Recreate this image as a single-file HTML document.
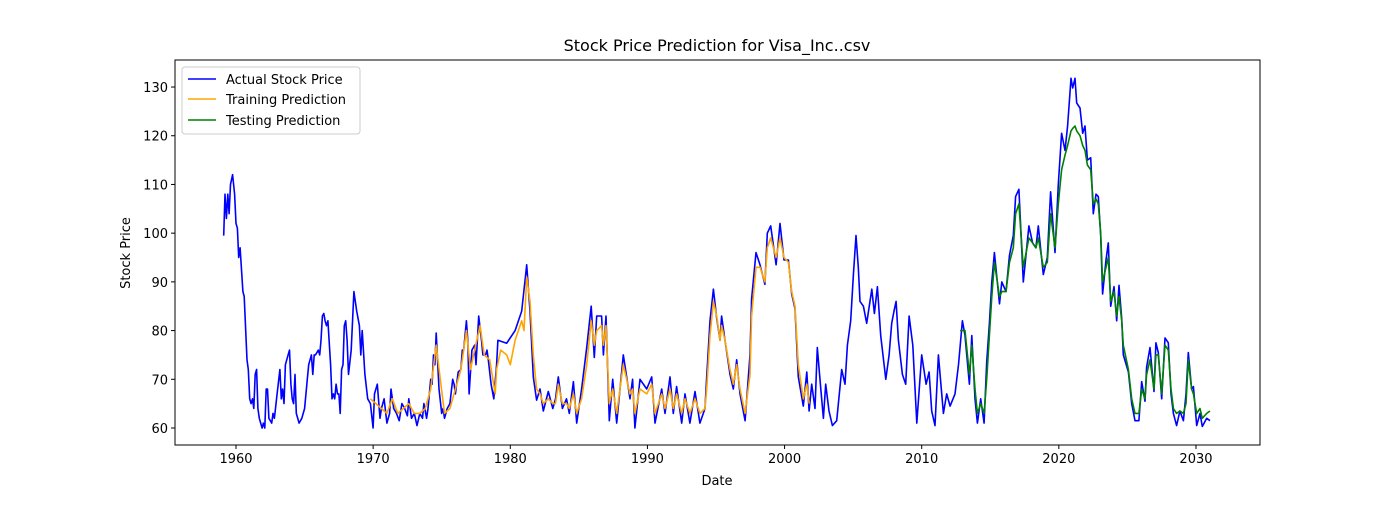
<!DOCTYPE html>
<html><head><meta charset="utf-8"><style>
body{margin:0;background:#fff;font-family:"Liberation Sans","DejaVu Sans",sans-serif}
svg text{font-family:"DejaVu Sans","Liberation Sans",sans-serif}
</style></head><body>
<svg id="c" width="1400" height="500"></svg>
<script>
const actualYears=[1959.1,1959.2,1959.3,1959.4,1959.5,1959.6,1959.75,1959.9,1960.0,1960.1,1960.2,1960.3,1960.5,1960.6,1960.8,1960.9,1961.0,1961.1,1961.2,1961.3,1961.4,1961.5,1961.6,1961.7,1961.9,1962.0,1962.1,1962.2,1962.3,1962.4,1962.6,1962.7,1962.8,1963.0,1963.2,1963.3,1963.4,1963.5,1963.6,1963.8,1963.9,1964.0,1964.1,1964.2,1964.3,1964.4,1964.6,1964.8,1965.0,1965.2,1965.3,1965.5,1965.6,1965.7,1965.8,1966.0,1966.1,1966.2,1966.3,1966.4,1966.5,1966.6,1966.7,1966.9,1967.0,1967.1,1967.2,1967.3,1967.4,1967.5,1967.6,1967.7,1967.8,1967.9,1968.0,1968.1,1968.2,1968.4,1968.6,1968.8,1969.0,1969.1,1969.2,1969.4,1969.6,1969.8,1970.0,1970.1,1970.3,1970.5,1970.6,1970.8,1971.0,1971.2,1971.3,1971.5,1971.7,1971.9,1972.1,1972.3,1972.5,1972.6,1972.8,1973.0,1973.2,1973.4,1973.6,1973.7,1973.9,1974.0,1974.2,1974.3,1974.4,1974.5,1974.6,1974.8,1975.0,1975.1,1975.2,1975.4,1975.6,1975.8,1975.9,1976.0,1976.2,1976.4,1976.5,1976.6,1976.8,1976.9,1977.0,1977.2,1977.3,1977.4,1977.5,1977.7,1977.9,1978.0,1978.2,1978.3,1978.4,1978.6,1978.8,1979.0,1979.1,
1979.74,1980.35,1980.83,1981.2,1981.44,1981.68,1981.92,1982.17,1982.41,1982.77,
1983.1,1983.3,1983.5,1983.8,1984.1,1984.3,1984.6,1984.84,1985.2,1985.57,
1985.9,1986.13,1986.3,1986.66,1986.79,1986.98,1987.22,1987.47,1987.76,1988.24,
1988.73,1988.92,1989.09,1989.46,1989.95,1990.31,1990.55,1991.04,1991.28,1991.65,
1991.89,1992.13,1992.5,1992.74,1993.1,1993.47,1993.83,1994.2,1994.32,1994.56,
1994.81,1995.05,1995.29,1995.41,1995.66,1996.02,1996.26,1996.51,1996.75,1997.12,
1997.48,1997.6,1997.92,1998.21,1998.57,1998.74,1998.99,1999.38,1999.67,1999.96,
2000.28,2000.52,2000.76,2001.0,
2001.37,2001.62,2001.79,2001.98,2002.22,2002.39,2002.64,2002.83,2003.0,2003.24,
2003.49,2003.8,2004.17,2004.41,2004.58,2004.82,2005.02,2005.21,2005.38,2005.5,
2005.75,2005.99,2006.36,2006.55,2006.77,2007.01,2007.38,2007.62,2007.81,2007.98,
2008.13,2008.3,2008.59,2008.83,2009.08,2009.35,2009.64,2010.0,2010.32,2010.54,
2010.73,2010.97,2011.22,2011.58,2011.82,2012.07,2012.43,2012.68,2012.97,2013.16,
2013.48,2013.65,2013.89,2014.06,2014.3,2014.55,2014.74,2014.94,2015.11,2015.3,
2015.67,2015.84,2016.15,2016.4,
2016.68,2016.85,2017.09,2017.41,2017.82,2018.09,2018.33,2018.5,2018.87,2019.16,
2019.4,2019.72,2019.96,2020.2,2020.45,2020.64,2020.89,2021.01,2021.18,2021.3,
2021.54,2021.74,2021.91,2022.08,2022.32,2022.51,2022.71,2022.88,2023.05,2023.19,
2023.44,2023.61,2023.78,2024.02,2024.22,2024.39,2024.58,2024.7,2025.07,2025.31,
2025.55,2025.84,2026.04,2026.28,2026.4,2026.65,2026.94,2027.08,2027.25,2027.5,
2027.74,2027.98,2028.18,2028.35,2028.59,2028.83,2029.08,2029.27,2029.44,2029.68,
2029.81,2030.05,2030.29,2030.46,2030.78,2031.02];
const actualValues=[99.5,108,103,108,104,110,112,108,102,101,95,97,88,87,74,72,66,65,66,64,71,72,64,62,60,61,60,68,68,62,61,63,62,67,72,66,68,65,73,75,76,69,66,65,71,63,61,62,64,70,73,75,71,75,75,76,75,78,83,83.5,82,81,82,73,66,67,66,69,67,67,63,72,73,81,82,78,71,76,88,84,81,75,80,71,66,65,60,67,69,62,64,66,61,63,68,64,63,61.5,65,64,62.5,66,62,63,60.5,63,62,65,62,64,70,69,75,73,79.5,68,63,64,62,64,65,70,69,67,71.5,72,76,76,82,78,67,76,76.5,77,73,83,78,75,75,76,74,69,66,73,78,
77.4,80,84,93.5,84,70.5,65.7,68,63.5,67.5,
64,66,70.5,64,66,63,69.5,61,68,76.5,
85,74.5,83,83,75,83,61.5,70,61,75,
66,70,60,70,68,70.5,61,68,63,70.5,
63,68.5,61,67,61,67.5,61,64,70.5,82,
88.5,82.5,78,83,78,71,68,74,67,61.5,
75,86.5,96,93.5,89.5,100,101.5,93.5,102,94.5,
94.5,87.5,84.5,70.5,
64.5,71.5,63.5,69,64,76.5,68,62,69,63.5,
60.5,61.5,72,69,77,82,91.5,99.5,93,86,
85,81.5,88.5,83.5,89,79,70,75,81.5,84,
86,78,71,69,83,77,61,75,69,71.5,
63.5,60.5,75,63,67,64.5,67,73,82,79,
69,79,66,61,66,61,73.5,81.5,90,96,
85.5,90,88,95.5,
99.5,107.5,109,90,101.5,98,97,101.5,91.5,95,
108.5,96,110,120.5,117,122,131.8,129.8,131.8,126.7,
125.7,120.5,122,115,115.5,104,108,107.5,99.5,87.5,
94.5,98,85,89,82,89.3,82.5,75,71.5,65,
61.5,61.5,69.5,65.5,72.5,76.5,67.5,77.5,75.5,66,
78.5,77.5,67,63,60.5,63.5,61.5,67,75.5,68,
68.5,60.5,63,60.3,62,61.5];
const trainYears=[1969.8,1970.2,1970.6,1971.0,1971.4,1971.8,1972.2,1972.6,1973.0,1973.4,1973.8,1974.2,1974.6,1974.9,1975.2,1975.6,1976.0,1976.4,1976.8,1977.1,1977.4,1977.8,1978.1,1978.5,1978.9,
1979.0,1979.3,1979.74,1980.0,1980.35,1980.83,1981.0,1981.2,1981.44,1981.68,1981.92,1982.17,1982.41,1982.77,1983.1,1983.3,1983.5,1983.8,1984.1,1984.3,1984.6,1984.84,1985.2,1985.57,1985.9,1986.13,1986.3,1986.66,1986.79,1986.98,1987.22,1987.47,1987.76,1988.24,1988.73,1988.92,1989.09,1989.46,1989.95,1990.31,1990.55,1991.04,1991.28,1991.65,1991.89,1992.13,1992.5,1992.74,1993.1,1993.47,1993.83,1994.2,1994.32,1994.56,1994.81,1995.05,1995.29,1995.41,1995.66,1996.02,1996.26,1996.51,1996.75,1997.12,1997.48,1997.6,1997.92,1998.21,1998.57,1998.74,1998.99,1999.38,1999.67,1999.96,2000.28,2000.52,2000.76,2001.0,2001.37,2001.62,2001.8];
const trainValues=[66,65,64,63,66,63,64,65,63,63,64,68,77,70,63,64,68,72,80,72,76,81,75,74,67,
72,76,75,73,78,82,80,91,86,75,68,67,65,66,65,65,69,65,65,64,67,63,66,73,82,77,80,81,77,81,65,68,63,73,67,68,63,68,67,69,63,67,64,68,64,67,63,66,63,66,63,64,68,79,86,83,78,81,78,72,69,73,68,63,71,83,93,93,90,97,99,95,99,95,94,88,85,73,66,69,65];
const testYears=[2012.8,2012.97,2013.16,2013.48,2013.65,2013.89,2014.06,2014.3,2014.55,2014.74,2014.94,2015.11,2015.3,2015.67,2015.84,2016.15,2016.4,2016.68,2016.85,2017.09,2017.41,2017.82,2018.09,2018.33,2018.5,2018.87,2019.16,2019.4,2019.72,2019.96,2020.2,2020.45,2020.64,2020.89,2021.01,2021.18,2021.3,2021.54,2021.74,2021.91,2022.08,2022.32,2022.51,2022.71,2022.88,2023.05,2023.19,2023.44,2023.61,2023.78,2024.02,2024.22,2024.39,2024.58,2024.7,2025.07,2025.31,2025.55,2025.84,2026.04,2026.28,2026.4,2026.65,2026.94,2027.08,2027.25,2027.5,2027.74,2027.98,2028.18,2028.35,2028.59,2028.83,2029.08,2029.27,2029.44,2029.68,2029.81,2030.05,2030.29,2030.46,2030.78,2031.02];
const testValues=[80,80,80,71,77,68,63,65,63,70,79,87,94,87,88,88,94,97,104,106,93,99,98,97,99,93,94,104,97,106,113,116,118,121,121.5,122,121,120,118,117,114,113,106,107,106,100,90,93,95,86,88,83,87,82,77,72,66,63,63,68,66,71,74,68,75,75,67,77,76,68,64,63,63.5,63,65,74,68,67,63,64,62,63,63.5];
const xTicks=[1960,1970,1980,1990,2000,2010,2020,2030];
const yTicks=[60,70,80,90,100,110,120,130];

const NS='http://www.w3.org/2000/svg';
const svg=document.getElementById('c');
const L=175,R=1260,T=60,B=445;
const xs=y=>236+(y-1960)*13.714;
const ys=v=>428-(v-60)*4.871;
function el(t,a,p){const e=document.createElementNS(NS,t);for(const k in a)e.setAttribute(k,a[k]);(p||svg).appendChild(e);return e;}
const frame=el('rect',{x:L,y:T,width:R-L,height:B-T,fill:'none',stroke:'#000','stroke-width':1});


xTicks.forEach(t=>{const x=xs(t);
 el('line',{x1:x,x2:x,y1:B,y2:B+4,stroke:'#000'});
 const tx=el('text',{x:x,y:B+18,'text-anchor':'middle','font-size':13}); tx.textContent=t;
 
 });
yTicks.forEach(t=>{const y=ys(t);
 el('line',{x1:L-4,x2:L,y1:y,y2:y,stroke:'#000'});
 const tx=el('text',{x:L-7,y:y+5,'text-anchor':'end','font-size':13}); tx.textContent=t;
 
 });
function line(X,Y,c,name){const n=Math.min(X.length,Y.length);const d=X.slice(0,n).map((x,i)=>(i?'L':'M')+xs(x).toFixed(1)+','+ys(Y[i]).toFixed(1)).join('');
 const p=el('path',{d:d,fill:'none',stroke:c,'stroke-width':1.6,'stroke-linejoin':'round'});
 
 }
line(actualYears,actualValues,'#0000ff','actual-line');
line(trainYears,trainValues,'#ffa500','training-line');
line(testYears,testValues,'#008000','testing-line');
</script>
<svg style="position:absolute;left:0;top:0" width="1400" height="500">
<text x="717" y="51" text-anchor="middle" font-size="16">Stock Price Prediction for Visa_Inc..csv</text>
<text x="717" y="485" text-anchor="middle" font-size="13">Date</text>
<text x="130" y="253" text-anchor="middle" font-size="13" transform="rotate(-90 130 253)">Stock Price</text>
<g>
<rect x="182" y="67" width="178" height="67" rx="3" fill="#fff" fill-opacity="0.8" stroke="#ccc"/>
<line x1="188" x2="216" y1="79" y2="79" stroke="#0000ff" stroke-width="1.6"/>
<text x="226" y="84" font-size="13">Actual Stock Price</text>
<line x1="188" x2="216" y1="99" y2="99" stroke="#ffa500" stroke-width="1.6"/>
<text x="226" y="104" font-size="13">Training Prediction</text>
<line x1="188" x2="216" y1="120" y2="120" stroke="#008000" stroke-width="1.6"/>
<text x="226" y="125" font-size="13">Testing Prediction</text>
</g></svg>
</body></html>
